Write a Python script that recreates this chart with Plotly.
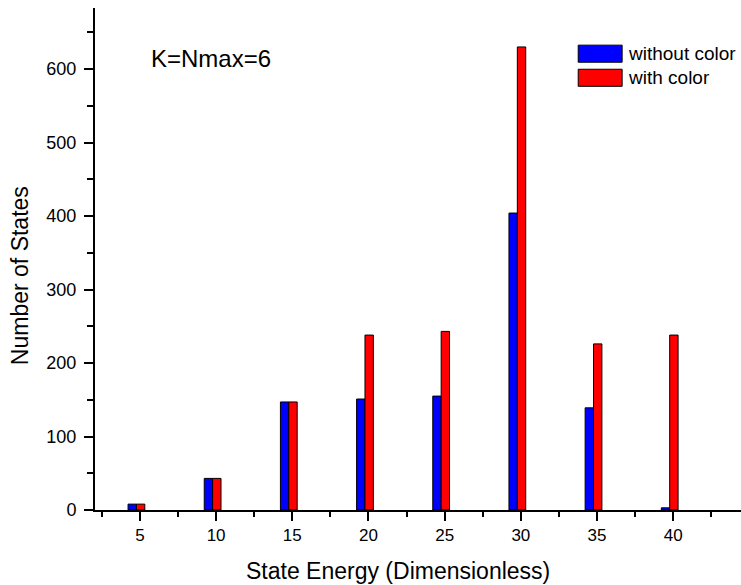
import plotly.graph_objects as go

# State energies and number of states per energy level
energy = [5, 10, 15, 20, 25, 30, 35, 40]
without_color = [8, 43, 147, 151, 155, 404, 139, 3]
with_color = [8, 43, 147, 238, 243, 630, 226, 238]

series_names = ["without color", "with color"]
series_colors = ["#0000ff", "#ff0000"]

x_ticks = [5, 10, 15, 20, 25, 30, 35, 40]
y_ticks = [0, 100, 200, 300, 400, 500, 600]

FONT = "Liberation Sans, Arial, sans-serif"
bar_w = 0.55

fig = go.Figure()
fig.add_trace(go.Bar(
    x=energy, y=without_color, name=series_names[0],
    width=bar_w, offset=-0.78,
    marker=dict(color=series_colors[0], line=dict(color="black", width=1)),
    showlegend=False,
))
fig.add_trace(go.Bar(
    x=energy, y=with_color, name=series_names[1],
    width=bar_w, offset=-0.23,
    marker=dict(color=series_colors[1], line=dict(color="black", width=1)),
    showlegend=False,
))

# Legend drawn as swatches with labels
legend_y = [0.909, 0.861]
for name, col, ly in zip(series_names, series_colors, legend_y):
    fig.add_shape(type="rect", xref="paper", yref="paper",
                  x0=0.748, x1=0.816, y0=ly - 0.017, y1=ly + 0.017,
                  fillcolor=col, line=dict(color="black", width=1))
    fig.add_annotation(xref="paper", yref="paper", x=0.822, y=ly,
                       text=name, showarrow=False, xanchor="left", yanchor="middle",
                       font=dict(family=FONT, size=19, color="black"))

fig.add_annotation(xref="paper", yref="paper", x=0.084, y=0.9,
                   text="K=Nmax=6", showarrow=False, xanchor="left", yanchor="middle",
                   font=dict(family=FONT, size=24, color="black"))

# Axis titles
fig.add_annotation(xref="paper", yref="paper", x=0.469, y=-0.122,
                   text="State Energy (Dimensionless)", showarrow=False,
                   xanchor="center", yanchor="middle",
                   font=dict(family=FONT, size=23, color="black"))
fig.add_annotation(xref="paper", yref="paper", x=-0.116, y=0.466,
                   text="Number of States", showarrow=False, textangle=-90,
                   xanchor="center", yanchor="middle",
                   font=dict(family=FONT, size=23, color="black"))

fig.update_layout(
    width=741, height=585,
    margin=dict(l=95, r=0, t=8, b=75),
    paper_bgcolor="white", plot_bgcolor="white",
    font=dict(family=FONT, color="black"),
    barmode="overlay",
    xaxis=dict(
        range=[2.05, 44.45], tickvals=x_ticks, ticktext=[str(v) for v in x_ticks],
        showgrid=False, zeroline=False, showline=True, linecolor="black", linewidth=2,
        ticks="outside", ticklen=9, tickwidth=1.5, tickcolor="black",
        minor=dict(tickvals=[2.5 + 5 * i for i in range(9)], ticks="outside",
                   ticklen=5, tickwidth=1.5, tickcolor="black"),
        tickfont=dict(family=FONT, size=17),
    ),
    yaxis=dict(
        range=[0, 683], tickvals=y_ticks, ticktext=[str(v) for v in y_ticks],
        showgrid=False, zeroline=False, showline=True, linecolor="black", linewidth=2,
        ticks="outside", ticklen=9, tickwidth=1.5, tickcolor="black",
        minor=dict(tickvals=[50 + 100 * i for i in range(7)], ticks="outside",
                   ticklen=6, tickwidth=1.5, tickcolor="black"),
        tickfont=dict(family=FONT, size=18), ticklabelstandoff=4,
    ),
)

fig.write_html("out.html")
